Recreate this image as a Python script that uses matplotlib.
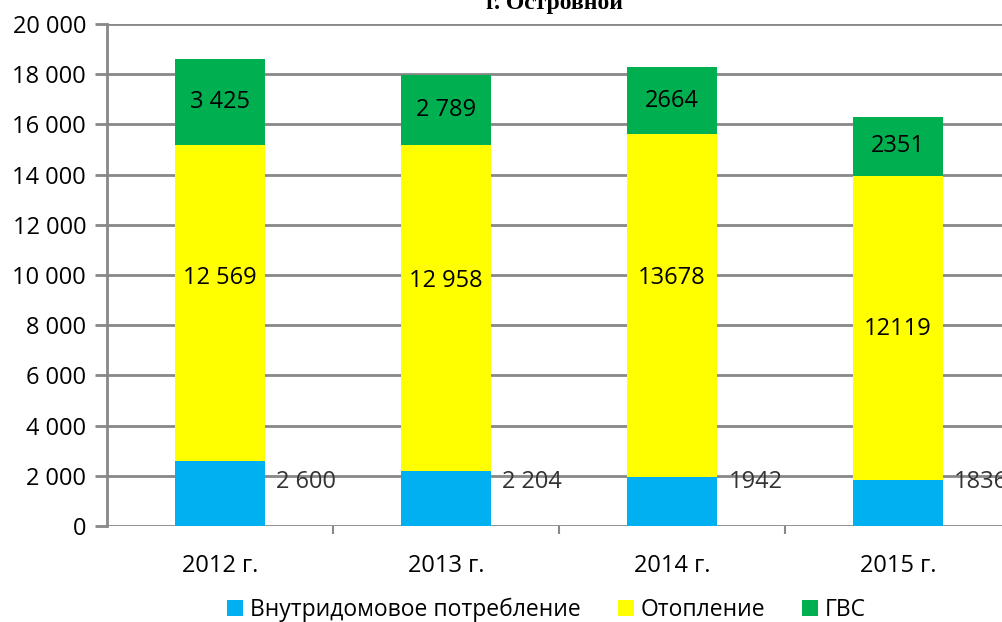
import matplotlib
matplotlib.use("Agg")
import matplotlib.pyplot as plt
import numpy as np
from matplotlib.ticker import FuncFormatter, FixedLocator

years = ["2012 г.", "2013 г.", "2014 г.", "2015 г."]
inner = [2600, 2204, 1942, 1836]
heating = [12569, 12958, 13678, 12119]
hot_water = [3425, 2789, 2664, 2351]

inner_text = ["2 600", "2 204", "1942", "1836"]
heating_text = ["12 569", "12 958", "13678", "12119"]
hot_water_text = ["3 425", "2 789", "2664", "2351"]

# where the heating labels sit (data units), as in the original chart
heating_label_y = [9900, 9750, 9870, 7850]

font = ["Liberation Sans Narrow", "Open Sans", "DejaVu Sans"]
plt.rcParams["font.family"] = font

fig = plt.figure(figsize=(10.03, 6.22), dpi=100)
ax = fig.add_axes([0.1067, 0.1543, 0.901, 0.807])

x = np.arange(len(years))
w = 0.4
c_blue, c_yellow, c_green = "#00B0F0", "#FFFF00", "#00B050"

ax.bar(x, inner, w, color=c_blue, label="Внутридомовое потребление", zorder=3)
ax.bar(x, heating, w, bottom=inner, color=c_yellow, label="Отопление", zorder=3)
bottom2 = np.array(inner) + np.array(heating)
ax.bar(x, hot_water, w, bottom=bottom2, color=c_green, label="ГВС", zorder=3)

for i in range(len(years)):
    ax.text(x[i] + w / 2 + 0.05, 1750, inner_text[i], ha="left", va="center",
            fontsize=17, color="#333333", zorder=4)
    ax.text(x[i], heating_label_y[i], heating_text[i], ha="center", va="center",
            fontsize=17, color="black", zorder=4)
    ax.text(x[i], bottom2[i] + hot_water[i] / 2, hot_water_text[i], ha="center",
            va="center", fontsize=17, color="black", zorder=4)

ax.set_xlim(-0.5, 3.5)
ax.set_ylim(0, 20000)
ax.set_yticks(np.arange(0, 20001, 2000))
ax.yaxis.set_major_formatter(FuncFormatter(lambda v, p: f"{int(v):,}".replace(",", " ")))
ax.set_xticks(x)
ax.set_xticklabels(years)
ax.xaxis.set_minor_locator(FixedLocator([0.5, 1.5, 2.5]))
ax.tick_params(axis="x", which="major", length=0, pad=20, labelsize=17)
ax.tick_params(axis="x", which="minor", length=6, width=1.5, color="#888888")
ax.tick_params(axis="y", length=9, width=2, color="#888888", labelsize=17, pad=6)

ax.grid(axis="y", color="#888888", linewidth=2, zorder=1)
ax.set_axisbelow(True)
for s in ["top", "right", "bottom"]:
    ax.spines[s].set_visible(False)
ax.spines["left"].set_color("#888888")
ax.spines["left"].set_linewidth(2)

fig.text(0.553, 0.995, "г. Островной", ha="center", va="center", fontsize=17,
         fontweight="bold", family=["Liberation Serif", "DejaVu Serif"])

leg = fig.legend(loc="center", bbox_to_anchor=(0.545, 0.02), ncol=3, frameon=False,
                 fontsize=16.5, handlelength=0.7, handleheight=0.7, handletextpad=0.3,
                 columnspacing=1.6)

fig.savefig("out.png", dpi=100)
